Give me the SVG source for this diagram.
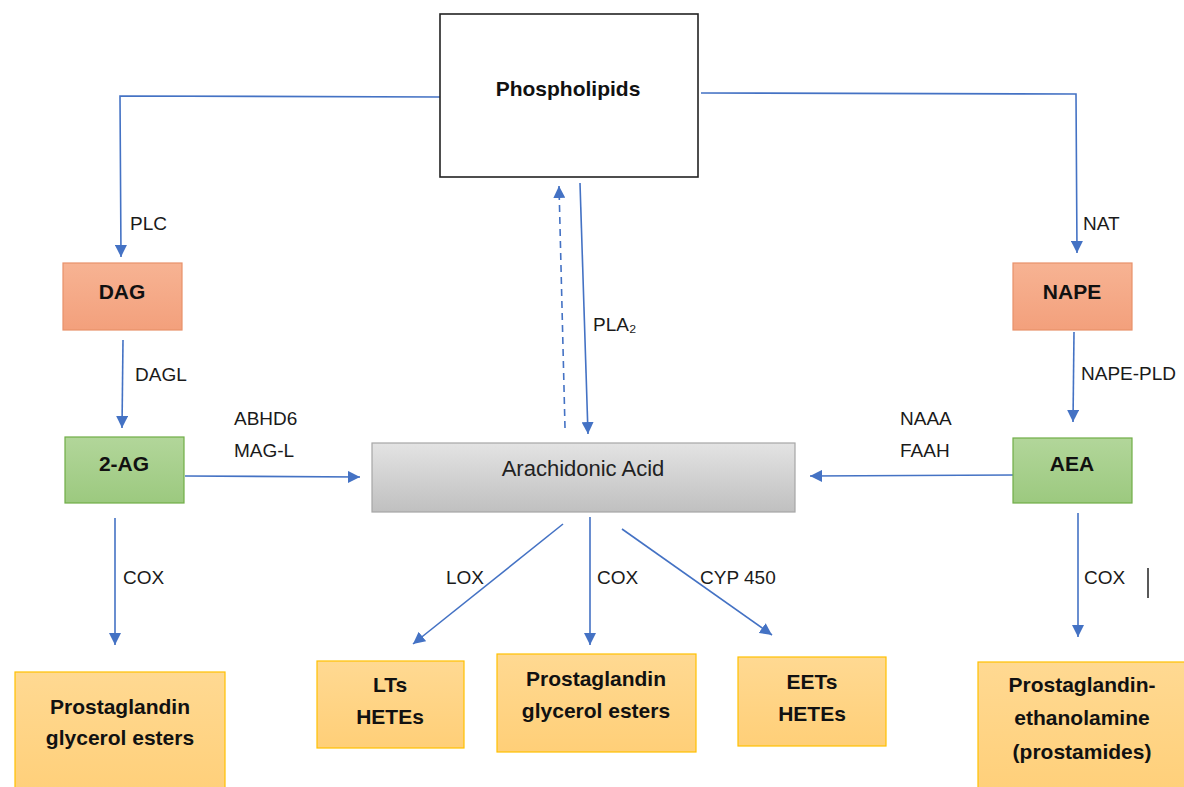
<svg xmlns="http://www.w3.org/2000/svg" width="1184" height="787" viewBox="0 0 1184 787">
<defs>
<linearGradient id="gOr" x1="0" y1="0" x2="0" y2="1"><stop offset="0" stop-color="#F7B393"/><stop offset="1" stop-color="#F3A07C"/></linearGradient>
<linearGradient id="gGr" x1="0" y1="0" x2="0" y2="1"><stop offset="0" stop-color="#B2D69A"/><stop offset="1" stop-color="#9CC97F"/></linearGradient>
<linearGradient id="gYe" x1="0" y1="0" x2="0" y2="1"><stop offset="0" stop-color="#FFD992"/><stop offset="1" stop-color="#FFCF78"/></linearGradient>
<linearGradient id="gGy" x1="0" y1="0" x2="0" y2="1"><stop offset="0" stop-color="#E3E3E3"/><stop offset="1" stop-color="#C0C0C0"/></linearGradient>
<marker id="arr" viewBox="0 0 12 12" refX="12" refY="6" markerWidth="12" markerHeight="12" markerUnits="userSpaceOnUse" orient="auto"><path d="M0,0 L12,6 L0,12 z" fill="#4472C4"/></marker>
<style>
.c{fill:none;stroke:#4472C4;stroke-width:1.6;marker-end:url(#arr)}
.lbl{font-family:"Liberation Sans",Arial,sans-serif;font-size:19px;fill:#1a1a1a}
.nb{font-family:"Liberation Sans",Arial,sans-serif;font-size:21px;font-weight:bold;fill:#111;text-anchor:middle}
.or{fill:url(#gOr);stroke:#E8916A;stroke-width:1.2}
.gr{fill:url(#gGr);stroke:#70AD47;stroke-width:1.2}
.ye{fill:url(#gYe);stroke:#FFC000;stroke-width:1.2}
</style>
</defs>
<rect width="1184" height="787" fill="#fff"/>
<g id="connectors">
<path class="c" d="M440,97 L120,96 L121,257"/>
<path class="c" d="M701,93 L1076,94 L1077,253"/>
<path class="c" d="M565,428 L559,186" stroke-dasharray="7,5"/>
<path class="c" d="M580,183 L588,434"/>
<path class="c" d="M123,340 L122,428"/>
<path class="c" d="M1074,332 L1073,422"/>
<path class="c" d="M185,476 L360,477"/>
<path class="c" d="M1013,475 L810,476"/>
<path class="c" d="M115,518 L115,645"/>
<path class="c" d="M563,524 L413,644"/>
<path class="c" d="M590,517 L590,645"/>
<path class="c" d="M622,529 L772,635"/>
<path class="c" d="M1078,513 L1078,637"/>
</g>
<g id="labels">
<text class="lbl" x="130" y="230">PLC</text>
<text class="lbl" x="1083" y="230">NAT</text>
<text class="lbl" x="593" y="331">PLA₂</text>
<text class="lbl" x="135" y="381">DAGL</text>
<text class="lbl" x="234" y="425">ABHD6</text>
<text class="lbl" x="234" y="457">MAG-L</text>
<text class="lbl" x="900" y="425">NAAA</text>
<text class="lbl" x="900" y="457">FAAH</text>
<text class="lbl" x="1081" y="380">NAPE-PLD</text>
<text class="lbl" x="123" y="584">COX</text>
<text class="lbl" x="465" y="584" text-anchor="middle">LOX</text>
<text class="lbl" x="597" y="584">COX</text>
<text class="lbl" x="700" y="584">CYP 450</text>
<text class="lbl" x="1084" y="584">COX</text>
<line x1="1148" y1="568" x2="1148" y2="598" stroke="#222" stroke-width="1.5"/>
</g>
<g id="phospholipids">
<rect x="440" y="14" width="258" height="163" fill="#fff" stroke="#222" stroke-width="1.6"/>
<text class="nb" x="568" y="96" font-size="23">Phospholipids</text>
</g>
<g id="dag">
<rect class="or" x="63" y="263" width="119" height="67"/>
<text class="nb" x="122" y="299">DAG</text>
</g>
<g id="nape">
<rect class="or" x="1013" y="263" width="119" height="67"/>
<text class="nb" x="1072" y="299">NAPE</text>
</g>
<g id="two-ag">
<rect class="gr" x="65" y="437" width="119" height="66"/>
<text class="nb" x="124" y="471">2-AG</text>
</g>
<g id="aea">
<rect class="gr" x="1013" y="438" width="119" height="65"/>
<text class="nb" x="1072" y="471">AEA</text>
</g>
<g id="arachidonic">
<rect x="372" y="443" width="423" height="69" fill="url(#gGy)" stroke="#A6A6A6" stroke-width="1.2"/>
<text x="583" y="476" font-family="Liberation Sans, Arial, sans-serif" font-size="22" fill="#222" text-anchor="middle">Arachidonic Acid</text>
</g>
<g id="pg-glycerol-left">
<rect class="ye" x="15" y="672" width="210" height="130"/>
<text class="nb" x="120" y="714">Prostaglandin</text>
<text class="nb" x="120" y="745">glycerol esters</text>
</g>
<g id="lts-hetes">
<rect class="ye" x="317" y="661" width="147" height="87"/>
<text class="nb" x="390" y="692">LTs</text>
<text class="nb" x="390" y="724">HETEs</text>
</g>
<g id="pg-glycerol-mid">
<rect class="ye" x="497" y="654" width="199" height="98"/>
<text class="nb" x="596" y="686">Prostaglandin</text>
<text class="nb" x="596" y="718">glycerol esters</text>
</g>
<g id="eets-hetes">
<rect class="ye" x="738" y="657" width="148" height="89"/>
<text class="nb" x="812" y="689">EETs</text>
<text class="nb" x="812" y="721">HETEs</text>
</g>
<g id="pg-ethanolamine">
<rect class="ye" x="978" y="662" width="220" height="140"/>
<text class="nb" x="1082" y="692">Prostaglandin-</text>
<text class="nb" x="1082" y="725">ethanolamine</text>
<text class="nb" x="1082" y="759">(prostamides)</text>
</g>
</svg>
